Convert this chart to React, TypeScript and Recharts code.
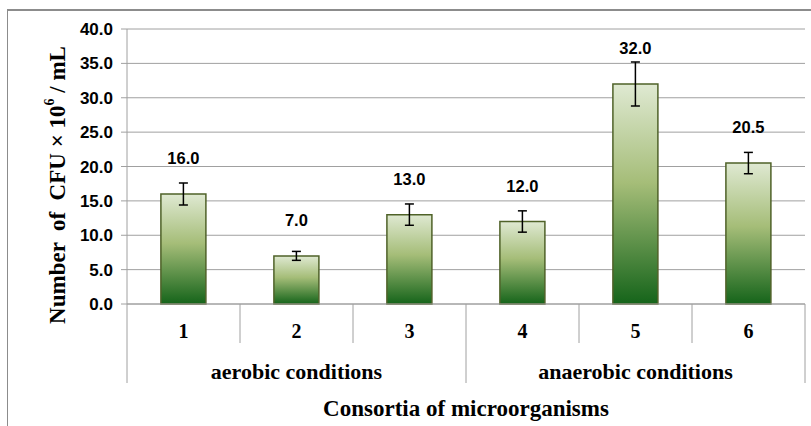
import React from "react";
import { BarChart, Bar, XAxis, YAxis, CartesianGrid, ErrorBar, LabelList } from "recharts";

const categories = ["1", "2", "3", "4", "5", "6"];
const values = [16.0, 7.0, 13.0, 12.0, 32.0, 20.5];
const errors = [1.6, 0.65, 1.55, 1.55, 3.2, 1.55];
const groups = ["aerobic conditions", "anaerobic conditions"];
const groupOfCategory = [0, 0, 0, 1, 1, 1];
const yTicks = [0, 5, 10, 15, 20, 25, 30, 35, 40];

const data = categories.map((c, i) => ({ name: c, value: values[i], err: errors[i], group: groupOfCategory[i] }));

const W = 811;
const H = 426;
const PLOT_LEFT = 127;
const PLOT_RIGHT = 805;
const PLOT_TOP = 29;
const PLOT_BOTTOM = 304;
const BAND = (PLOT_RIGHT - PLOT_LEFT) / categories.length;
const AXIS_GRAY = "#a0a0a0";
const SERIF = "'Liberation Serif', 'Times New Roman', serif";
const SANS = "'Liberation Sans', Arial, sans-serif";

function CategoryTick(props: any) {
  const { x, y, payload, index } = props;
  const half = BAND / 2;
  const left = x - half;
  const right = x + half;
  const gi = groupOfCategory[index];
  const isGroupStart = index === 0 || groupOfCategory[index - 1] !== gi;
  const isLast = index === categories.length - 1;
  const members = groupOfCategory.map((g, i) => (g === gi ? i : -1)).filter((i) => i >= 0);
  const isGroupCenter = members[Math.floor(members.length / 2)] === index;
  const groupCenterX = isGroupCenter ? x + (members.length % 2 === 0 ? -half : 0) : 0;
  return (
    <g>
      <line x1={left} x2={left} y1={y} y2={y + (isGroupStart ? 79 : 39)} stroke={AXIS_GRAY} strokeWidth={1} />
      {isLast && <line x1={right} x2={right} y1={y} y2={y + 79} stroke={AXIS_GRAY} strokeWidth={1} />}
      <text x={x} y={y + 27} textAnchor="middle" dominantBaseline="central" fontFamily={SERIF} fontWeight="bold" fontSize={20} fill="#000">
        {payload.value}
      </text>
      {isGroupCenter && (
        <text x={groupCenterX} y={y + 67} textAnchor="middle" dominantBaseline="central" fontFamily={SERIF} fontWeight="bold" fontSize={22} fill="#000">
          {groups[gi]}
        </text>
      )}
    </g>
  );
}

function YTitle(props: any) {
  const cx = 57;
  const cy = 185;
  return (
    <text
      x={cx}
      y={cy}
      transform={`rotate(-90 ${cx} ${cy})`}
      textAnchor="middle"
      dominantBaseline="central"
      fontFamily={SERIF}
      fontWeight="bold"
      fontSize={23}
      fill="#000"
      xmlSpace="preserve"
      style={{ whiteSpace: "pre" }}
    >
      {"Number  of  CFU × 10"}
      <tspan fontSize={14} dy={-8}>6</tspan>
      <tspan dy={8}>{" / mL"}</tspan>
    </text>
  );
}

function XTitle(props: any) {
  return (
    <text x={(PLOT_LEFT + PLOT_RIGHT) / 2} y={408} textAnchor="middle" dominantBaseline="central" fontFamily={SERIF} fontWeight="bold" fontSize={23} fill="#000">
      Consortia of microorganisms
    </text>
  );
}

function ValueLabel(props: any) {
  const { x, y, width, value } = props;
  return (
    <text x={x + width / 2} y={y - 36} textAnchor="middle" dominantBaseline="central" fontFamily={SANS} fontWeight="bold" fontSize={16.5} fill="#000">
      {Number(value).toFixed(1)}
    </text>
  );
}

export default function App() {
  return (
    <div style={{ position: "absolute", left: 0, top: 0, width: W, height: H, background: "#fff", overflow: "hidden" }}>
      <div style={{ position: "absolute", left: 7, top: 9, width: W, height: H, borderLeft: "1.5px solid #8c8c8c", borderTop: "2px solid #8c8c8c" }} />
      <div style={{ position: "absolute", left: 0, top: 0 }}>
        <BarChart
          width={W}
          height={H}
          data={data}
          margin={{ top: PLOT_TOP, right: W - PLOT_RIGHT, bottom: 0, left: 0 }}
          barCategoryGap="30%"
        >
          <defs>
            <linearGradient id="barGrad" x1="0" y1="0" x2="0" y2="1">
              <stop offset="0%" stopColor="#dfe9d2" />
              <stop offset="45%" stopColor="#a5bd78" />
              <stop offset="100%" stopColor="#15641a" />
            </linearGradient>
          </defs>
          <CartesianGrid horizontal vertical={false} stroke={AXIS_GRAY} strokeWidth={1} />
          <XAxis
            dataKey="name"
            height={H - PLOT_BOTTOM}
            axisLine={{ stroke: AXIS_GRAY }}
            tickLine={false}
            tickSize={0}
            tickMargin={0}
            interval={0}
            tick={<CategoryTick />}
            label={<XTitle />}
          />
          <YAxis
            width={PLOT_LEFT}
            domain={[0, 40]}
            ticks={yTicks}
            interval={0}
            axisLine={{ stroke: AXIS_GRAY }}
            tickLine={{ stroke: AXIS_GRAY }}
            tickSize={6}
            tickMargin={8}
            tickFormatter={(v: number) => v.toFixed(1)}
            tick={{ fontFamily: SANS, fontWeight: "bold", fontSize: 17, fill: "#000" }}
            label={<YTitle />}
          />
          <Bar dataKey="value" fill="url(#barGrad)" stroke="#4f6228" strokeWidth={1.5} isAnimationActive={false}>
            <ErrorBar dataKey="err" width={4.5} stroke="#000" strokeWidth={1.5} direction="y" />
            <LabelList dataKey="value" content={<ValueLabel />} />
          </Bar>
        </BarChart>
      </div>
    </div>
  );
}
